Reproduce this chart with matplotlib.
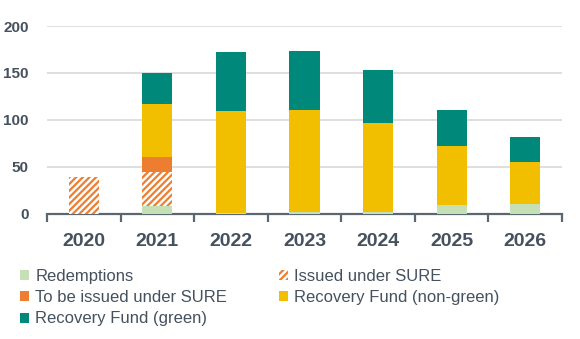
import matplotlib
matplotlib.use("Agg")
import matplotlib.pyplot as plt
import numpy as np
from matplotlib.patches import Patch

plt.rcParams['font.family'] = ['Liberation Sans', 'DejaVu Sans']
plt.rcParams['hatch.linewidth'] = 1.6

years = ["2020", "2021", "2022", "2023", "2024", "2025", "2026"]
redemptions = [0, 8, 1, 2, 2, 9, 10]
issued_sure = [39, 36, 0, 0, 0, 0, 0]
to_be_issued_sure = [0, 16, 0, 0, 0, 0, 0]
recovery_nongreen = [0, 57, 108, 108, 95, 63, 45]
recovery_green = [0, 33, 63, 63, 56, 38, 27]

c_redemp = "#c5e0b4"
c_orange = "#ed7d31"
c_yellow = "#f2bf00"
c_teal = "#00897b"
text_col = "#45515e"
axis_col = "#5a6670"

fig = plt.figure(figsize=(5.8, 3.39), dpi=100)
ax = fig.add_axes([0.081, 0.370, 0.888, 0.553])

x = np.arange(len(years))
w = 0.41
bottom = np.zeros(len(years))

ax.bar(x, redemptions, w, bottom=bottom, color=c_redemp, zorder=3)
bottom += redemptions
ax.bar(x, issued_sure, w, bottom=bottom, color="white", edgecolor=c_orange,
       hatch="/////", linewidth=0, zorder=3)
bottom += issued_sure
ax.bar(x, to_be_issued_sure, w, bottom=bottom, color=c_orange, zorder=3)
bottom += to_be_issued_sure
ax.bar(x, recovery_nongreen, w, bottom=bottom, color=c_yellow, zorder=3)
bottom += recovery_nongreen
ax.bar(x, recovery_green, w, bottom=bottom, color=c_teal, zorder=3)

ax.set_xlim(-0.5, len(years) - 0.5)
ax.set_ylim(0, 200)
ax.set_yticks([0, 50, 100, 150, 200])
ax.yaxis.grid(True, color="#d9d9d9", linewidth=1.2, zorder=0)
ax.set_axisbelow(True)

for s in ["top", "right", "left"]:
    ax.spines[s].set_visible(False)
ax.spines["bottom"].set_color(axis_col)
ax.spines["bottom"].set_linewidth(1.6)

ax.set_xticks(np.arange(-0.5, len(years), 1.0))
ax.set_xticklabels([])
ax.set_xticks(x, minor=True)
ax.set_xticklabels(years, minor=True)
ax.tick_params(axis="x", which="major", direction="out", length=6, width=1.6,
               color=axis_col)
ax.tick_params(axis="x", which="minor", length=0, pad=14, labelsize=14,
               labelcolor=text_col)
ax.tick_params(axis="y", length=0, pad=13, labelsize=11, labelcolor=text_col)
for lbl in ax.get_xticklabels(minor=True) + ax.get_yticklabels():
    lbl.set_fontweight("bold")

handles = [
    Patch(facecolor=c_redemp, label="Redemptions"),
    Patch(facecolor="white", edgecolor=c_orange, hatch="/////", linewidth=0,
          label="Issued under SURE"),
    Patch(facecolor=c_orange, label="To be issued under SURE"),
    Patch(facecolor=c_yellow, label="Recovery Fund (non-green)"),
    Patch(facecolor=c_teal, label="Recovery Fund (green)"),
]
order = [0, 2, 4, 1, 3]
leg = fig.legend([handles[i] for i in order], [handles[i].get_label() for i in order],
                 ncol=2, loc="upper left", bbox_to_anchor=(0.035, 0.207),
                 frameon=False, fontsize=12, handlelength=0.55, handleheight=0.55,
                 handletextpad=0.35, labelspacing=0.38, columnspacing=3.1,
                 borderaxespad=0, borderpad=0)
for t in leg.get_texts():
    t.set_color(text_col)

fig.savefig("out.png", dpi=100)
